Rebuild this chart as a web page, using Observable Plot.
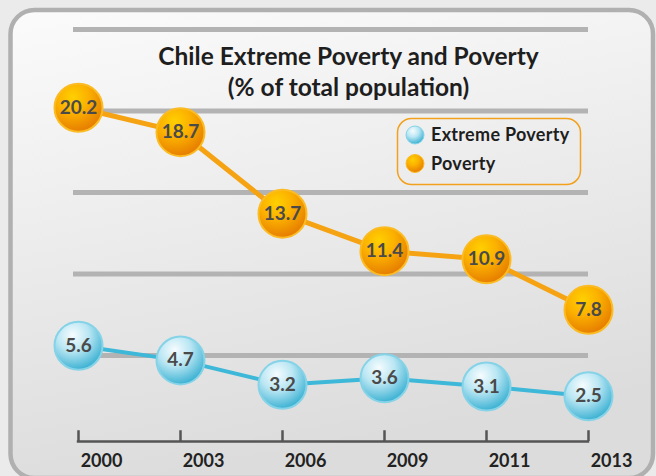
<!DOCTYPE html>
<html><head><meta charset="utf-8">
<script src="https://cdn.jsdelivr.net/npm/d3@7"></script>
<script src="https://cdn.jsdelivr.net/npm/@observablehq/plot@0.6"></script>
<style>
html,body{margin:0;padding:0;background:#ebebeb;}
#chart{width:656px;height:476px;overflow:hidden;}
svg{display:block}
</style></head><body><div id="chart"></div>
<script>
const years = ["2000","2003","2006","2009","2011","2013"];
const extremePoverty = [5.6, 4.7, 3.2, 3.6, 3.1, 2.5];
const poverty = [20.2, 18.7, 13.7, 11.4, 10.9, 7.8];
const seriesNames = ["Extreme Poverty", "Poverty"];
const gridValues = [5, 10, 15, 20, 25];
const titleLines = ["Chile Extreme Poverty and Poverty", "(% of total population)"];

const ext = years.map((year, i) => ({year, series: seriesNames[0], value: extremePoverty[i]}));
const pov = years.map((year, i) => ({year, series: seriesNames[1], value: poverty[i]}));

const FONT = "Lato, 'Open Sans', sans-serif";
const labelColor = "#4a4a4a";
const firstYear = () => years[0];
const lastYear = () => years[years.length - 1];

const chart = Plot.plot({
  width: 656, height: 476,
  marginLeft: 78, marginRight: 68, marginTop: 29, marginBottom: 39.5,
  x: {type: "point", domain: years, padding: 0, axis: null},
  y: {domain: [0, 25], axis: null},
  style: {background: "transparent", fontFamily: FONT, overflow: "visible"},
  marks: [
    Plot.ruleY(gridValues, {x1: firstYear, x2: lastYear, insetLeft: -5, stroke: "#b3b3b3", strokeWidth: 5}),
    Plot.ruleY([0], {x1: firstYear, x2: lastYear, insetLeft: -1.2, insetRight: -1.2, dy: 4.5, stroke: "#555", strokeWidth: 2.5}),
    Plot.ruleX(years, {x: d => d, y1: 0, y2: 0.66, dy: 4.5, stroke: "#555", strokeWidth: 2.5}),
    Plot.text(years, {x: d => d, frameAnchor: "bottom", dy: 29.5, dx: 23, fontSize: 18, fontWeight: "bold", fill: "#222"}),
    Plot.text([titleLines[0]], {frameAnchor: "top", dx: 15, dy: 28, lineAnchor: "middle", fontSize: 24.5, fontWeight: "bold", fill: "#1e1e1e"}),
    Plot.text([titleLines[1]], {frameAnchor: "top", dx: 15, dy: 59, lineAnchor: "middle", fontSize: 24.5, fontWeight: "bold", fill: "#1e1e1e"}),
    Plot.line(pov, {x: "year", y: "value", stroke: "#f5a313", strokeWidth: 5}),
    Plot.line(ext, {x: "year", y: "value", stroke: "#3eb8d8", strokeWidth: 4}),
    Plot.dot(pov, {x: "year", y: "value", r: 24, fill: "url(#gOrange)", stroke: "#fbbb22", strokeWidth: 2}),
    Plot.dot(ext, {x: "year", y: "value", r: 24, fill: "url(#gBlue)", stroke: "#86d3e8", strokeWidth: 2}),
    Plot.text(pov, {x: "year", y: "value", text: d => d.value.toFixed(1), fontSize: 19, fontWeight: "bold", fill: labelColor}),
    Plot.text(ext, {x: "year", y: "value", text: d => d.value.toFixed(1), fontSize: 19, fontWeight: "bold", fill: labelColor})
  ]
});

const svg = d3.select(chart);
const defs = svg.insert("defs", ":first-child");
const go = defs.append("radialGradient").attr("id", "gOrange").attr("cx", "38%").attr("cy", "28%").attr("r", "75%");
go.append("stop").attr("offset", "0%").attr("stop-color", "#ffd000");
go.append("stop").attr("offset", "45%").attr("stop-color", "#fbb000");
go.append("stop").attr("offset", "100%").attr("stop-color", "#e57a00");
const gb = defs.append("radialGradient").attr("id", "gBlue").attr("cx", "38%").attr("cy", "28%").attr("r", "75%");
gb.append("stop").attr("offset", "0%").attr("stop-color", "#f6fcfe");
gb.append("stop").attr("offset", "45%").attr("stop-color", "#b9e6f3");
gb.append("stop").attr("offset", "100%").attr("stop-color", "#36afd1");
const gbg = defs.append("linearGradient").attr("id", "gBg").attr("x1", "0").attr("y1", "0").attr("x2", "0.25").attr("y2", "1");
gbg.append("stop").attr("offset", "0%").attr("stop-color", "#fbfbfb");
gbg.append("stop").attr("offset", "100%").attr("stop-color", "#dcdcdc");

svg.insert("rect", "defs + *")
  .attr("x", 10.5).attr("y", 10).attr("width", 642.5).attr("height", 468)
  .attr("rx", 24).attr("fill", "url(#gBg)").attr("stroke", "#b0b0b0").attr("stroke-width", 4.5);

// legend
const lg = svg.append("g").attr("font-family", FONT).attr("text-anchor", "start");
lg.append("rect").attr("x", 397.5).attr("y", 118.5).attr("width", 183).attr("height", 66).attr("rx", 14)
  .attr("fill", "none").attr("stroke", "#f2a11c").attr("stroke-width", 1.5);
const fills = ["url(#gBlue)", "url(#gOrange)"];
const strokes = ["#86d3e8", "#fbbb22"];
seriesNames.forEach((name, i) => {
  const cy = 135 + i * 28.5;
  lg.append("circle").attr("cx", 415).attr("cy", cy).attr("r", 9).attr("fill", fills[i]).attr("stroke", strokes[i]).attr("stroke-width", 1);
  lg.append("text").attr("x", 431).attr("y", cy).attr("dy", "0.35em").attr("font-size", 18).attr("letter-spacing", "0.3px")
    .attr("font-weight", "bold").attr("fill", "#1e1e1e").attr("text-anchor", "start").text(name);
});

document.getElementById("chart").appendChild(chart);
</script></body></html>
